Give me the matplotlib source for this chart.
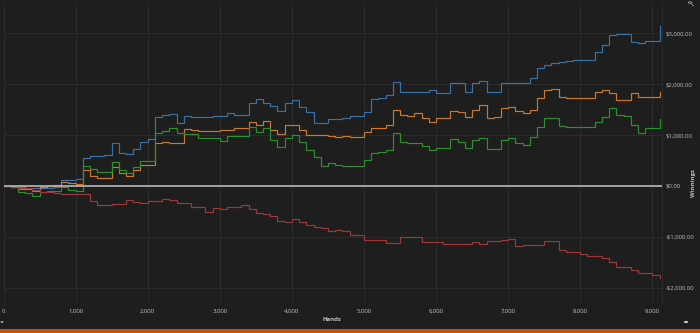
import matplotlib
matplotlib.use("Agg")
import matplotlib.pyplot as plt
from matplotlib.ticker import FuncFormatter
from matplotlib.patches import Rectangle, Circle
from matplotlib.lines import Line2D

# Hands played (shared sample grid for every series)
hands = list(range(0, 9101, 100)) + [9110]

# Cumulative winnings in dollars at each sampled hand
total_winnings = [
    0, -10, -20, -40, -50, -50, -40, -30, 110, 120,
    130, 544, 590, 590, 600, 839, 640, 629, 720, 860,
    920, 1350, 1400, 1410, 1244, 1375, 1362, 1362, 1362, 1370,
    1370, 1441, 1395, 1395, 1624, 1700, 1624, 1572, 1480, 1637,
    1690, 1558, 1460, 1244, 1231, 1316, 1316, 1340, 1375, 1375,
    1450, 1703, 1720, 1788, 2049, 1853, 1853, 1853, 1853, 1880,
    1833, 1833, 2017, 2017, 1853, 2017, 2060, 1853, 1853, 2017,
    2017, 2020, 2030, 2116, 2312, 2380, 2423, 2440, 2460, 2475,
    2475, 2475, 2638, 2770, 2967, 2986, 2986, 2820, 2803, 2849,
    2849, 3120, 3143,
]

showdown_winnings = [
    0, -30, -60, -65, -100, -13, 0, 10, 85, 53,
    30, 314, 200, 151, 151, 367, 249, 200, 314, 413,
    413, 839, 870, 839, 839, 1113, 1100, 1081, 1081, 1081,
    1090, 1095, 1133, 1133, 1250, 1200, 1277, 1100, 1022, 1198,
    1198, 1100, 1002, 1002, 1002, 982, 969, 980, 969, 969,
    1050, 1133, 1133, 1198, 1500, 1395, 1380, 1441, 1330, 1263,
    1330, 1330, 1480, 1460, 1362, 1493, 1591, 1330, 1362, 1526,
    1558, 1480, 1441, 1500, 1723, 1886, 1899, 1742, 1723, 1723,
    1723, 1723, 1853, 1886, 1820, 1690, 1690, 1833, 1742, 1742,
    1742, 1800, 1853,
]

allin_adjusted = [
    0, -20, -112, -130, -200, -112, -98, -98, -26, -79,
    -90, 393, 328, 281, 281, 478, 314, 262, 367, 498,
    498, 1035, 1087, 1133, 1035, 1022, 1022, 937, 937, 937,
    884, 982, 982, 982, 1150, 1067, 1133, 904, 760, 937,
    1002, 870, 707, 576, 393, 446, 413, 400, 393, 393,
    500, 654, 660, 707, 1035, 870, 850, 839, 790, 707,
    741, 741, 917, 870, 740, 904, 940, 721, 721, 904,
    937, 839, 806, 969, 1165, 1330, 1330, 1179, 1153, 1153,
    1153, 1153, 1263, 1350, 1526, 1400, 1375, 1198, 1035, 1133,
    1133, 1300, 1310,
]

non_showdown_winnings = [
    0, 0, -45, -45, -80, -112, -112, -130, -163, -163,
    -163, -163, -288, -373, -373, -354, -354, -275, -308, -330,
    -288, -288, -262, -275, -327, -327, -406, -406, -505, -439,
    -450, -420, -406, -373, -450, -537, -560, -589, -680, -701,
    -655, -700, -766, -800, -832, -880, -864, -880, -963, -963,
    -1061, -1061, -1061, -1126, -1126, -1008, -1008, -1008, -1094, -1094,
    -1100, -1139, -1139, -1139, -1139, -1110, -1139, -1090, -1074, -1060,
    -1048, -1179, -1159, -1159, -1159, -1074, -1074, -1257, -1290, -1290,
    -1330, -1375, -1375, -1421, -1500, -1585, -1585, -1650, -1715, -1715,
    -1750, -1794, -1800,
]

x_ticks = [0, 1000, 2000, 3000, 4000, 5000, 6000, 7000, 8000, 9000]
y_ticks = [-2000, -1000, 0, 1000, 2000, 3000]

BG = "#1e1e1e"
GRID = "#2b2b2b"
TEXT = "#c0c0c0"
plt.rcParams["font.family"] = ["Open Sans", "DejaVu Sans"]

fig = plt.figure(figsize=(7.0, 3.33), dpi=100, facecolor=BG)
ax = fig.add_axes([0.005, 0.0901, 0.9403, 0.901], facecolor=BG)

series = [
    (total_winnings, "#3a72a8"),
    (showdown_winnings, "#c97a2e"),
    (allin_adjusted, "#2e8f2e"),
    (non_showdown_winnings, "#9c3838"),
]
for values, color in series:
    ax.plot(hands, values, drawstyle="steps-post", color=color, lw=0.85,
            solid_joinstyle="miter")

ax.axhline(0, color="#b8b8b8", lw=1.2, zorder=5)

ax.set_xlim(0, 9130)
ax.set_ylim(-2300, 3595)
ax.set_xticks(x_ticks)
ax.set_yticks(y_ticks)
ax.xaxis.set_major_formatter(FuncFormatter(lambda v, p: f"{int(v):,}"))


def money(v, p):
    v = int(round(v))
    return f"-${abs(v):,}.00" if v < 0 else f"${v:,}.00"


ax.yaxis.set_major_formatter(FuncFormatter(money))
ax.yaxis.tick_right()
ax.tick_params(axis="both", length=0, colors=TEXT, labelsize=4.3)
ax.tick_params(axis="x", pad=4)
ax.tick_params(axis="y", pad=3)
ax.grid(True, color=GRID, lw=0.8)
ax.set_axisbelow(True)
for side in ["top", "left", "bottom"]:
    ax.spines[side].set_visible(False)
ax.spines["right"].set_color(GRID)
ax.spines["right"].set_linewidth(0.8)

fig.text(0.474, 0.042, "Hands", color=TEXT, fontsize=4.3, ha="center",
         va="center", fontweight="bold")
fig.text(0.99, 0.45, "Winnings", color=TEXT, fontsize=4.3, ha="center",
         va="center", rotation=90, fontweight="bold")

# Orange footer strip
fig.add_artist(Rectangle((0, 0), 1, 4 / 333, transform=fig.transFigure,
                         color="#c85200", lw=0))
# Small toolbar glyphs
fig.add_artist(Circle((686 / 700, 1 - 322 / 333), 2.2 / 700,
                      transform=fig.transFigure, color="#d0d0d0", lw=0))
fig.add_artist(Circle((2 / 700, 1 - 322 / 333), 1.5 / 700,
                      transform=fig.transFigure, color="#d0d0d0", lw=0))
# Zoom (magnifier) icon in the top-right corner
fig.add_artist(Circle((690 / 700, 1 - 2.5 / 333), 1.8 / 700,
                      transform=fig.transFigure, fill=False,
                      edgecolor="#9a9a9a", lw=0.6))
fig.add_artist(Line2D([691.3 / 700, 693.5 / 700],
                      [1 - 3.8 / 333, 1 - 6 / 333],
                      transform=fig.transFigure, color="#9a9a9a", lw=0.6))

fig.savefig("out.png", dpi=100, facecolor=BG)
